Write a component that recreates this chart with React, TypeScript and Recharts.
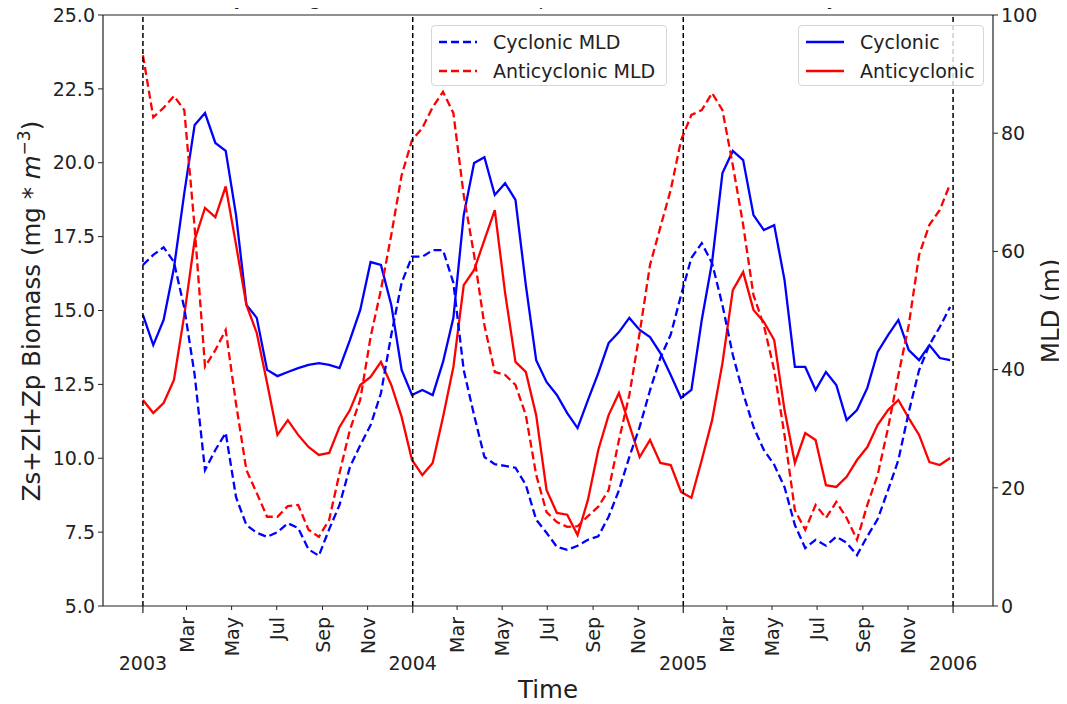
import { ComposedChart, Line, XAxis, YAxis, ReferenceLine } from 'recharts';

// biweekly samples starting 2003-01-01
const cyclonic = [
  14.85, 13.83, 14.68, 16.44, 18.98, 21.28, 21.68, 20.67, 20.4, 18.23,
  15.19, 14.75, 12.99, 12.78, 12.92, 13.05, 13.16, 13.22, 13.16, 13.05,
  14.0, 15.02, 16.64, 16.54, 15.19, 12.99, 12.14, 12.31, 12.14, 13.26,
  14.75, 18.23, 19.99, 20.19, 18.91, 19.31, 18.74, 15.86, 13.32, 12.58,
  12.14, 11.53, 11.02, 11.97, 12.88, 13.9, 14.27, 14.75, 14.34, 14.1,
  13.56, 12.82, 12.04, 12.31, 14.68, 16.64, 19.65, 20.4, 20.09, 18.23,
  17.72, 17.89, 16.03, 13.09, 13.09, 12.31, 12.92, 12.48, 11.29, 11.63,
  12.38, 13.6, 14.17, 14.68, 13.66, 13.32, 13.83, 13.39, 13.32,
];
const anticyclonic = [
  11.97, 11.53, 11.87, 12.65, 14.85, 17.39, 18.47, 18.16, 19.2, 17.22,
  15.19, 14.24, 12.55, 10.79, 11.29, 10.79, 10.38, 10.11, 10.18, 11.06,
  11.63, 12.48, 12.75, 13.26, 12.48, 11.4, 9.94, 9.43, 9.84, 11.4,
  13.09, 15.86, 16.37, 17.39, 18.4, 15.59, 13.26, 12.92, 11.46, 8.93,
  8.15, 8.09, 7.4, 8.59, 10.28, 11.46, 12.21, 11.13, 10.04, 10.62,
  9.84, 9.77, 8.86, 8.66, 9.94, 11.29, 13.22, 15.69, 16.3, 15.02,
  14.61, 14.0, 11.63, 9.84, 10.85, 10.62, 9.09, 9.03, 9.37, 9.94,
  10.38, 11.13, 11.63, 11.97, 11.36, 10.79, 9.87, 9.77, 10.01,
];
const cyclonicMld = [
  57.7, 59.4, 60.7, 58.2, 50.4, 39.1, 23.0, 26.4, 29.3, 18.4,
  13.7, 12.4, 11.7, 12.5, 14.0, 13.2, 9.6, 8.5, 13.0, 17.1,
  23.5, 27.2, 30.6, 36.0, 45.9, 54.7, 59.1, 59.1, 60.2, 60.2,
  54.7, 39.9, 32.3, 25.2, 24.0, 23.7, 23.4, 20.5, 14.6, 12.4,
  10.0, 9.5, 10.2, 11.2, 11.8, 15.1, 19.6, 25.2, 30.3, 36.5,
  42.0, 45.9, 52.6, 58.9, 61.4, 58.0, 50.9, 42.5, 36.0, 30.3,
  26.4, 23.9, 20.1, 13.7, 9.8, 11.2, 10.2, 11.7, 10.7, 8.6,
  11.8, 14.7, 19.6, 24.7, 32.8, 39.9, 44.2, 47.2, 50.6,
];
const anticyclonicMld = [
  93.2, 82.7, 84.3, 86.3, 83.9, 64.0, 40.5, 43.3, 46.7, 34.2,
  23.0, 19.1, 15.1, 15.1, 16.9, 17.1, 12.9, 11.7, 14.6, 22.5,
  29.8, 34.9, 45.5, 53.5, 62.8, 72.9, 78.8, 80.9, 84.4, 87.0,
  83.4, 69.5, 59.4, 47.5, 39.6, 39.1, 37.4, 32.3, 22.2, 15.9,
  14.2, 13.4, 13.5, 15.2, 16.8, 19.6, 28.1, 35.7, 46.2, 57.7,
  64.1, 70.4, 78.8, 83.1, 83.9, 86.8, 83.9, 74.6, 64.5, 52.6,
  47.5, 39.9, 28.9, 16.2, 12.9, 17.1, 14.9, 17.6, 14.9, 11.2,
  17.1, 22.2, 30.1, 39.1, 47.5, 59.4, 64.5, 67.0, 71.4,
];

const yearLabels = ['2003', '2004', '2005', '2006'];
const monthLabels = ['Mar', 'May', 'Jul', 'Sep', 'Nov'];
const monthNums = [2, 4, 6, 8, 10];
const biomassTicks = [5, 7.5, 10, 12.5, 15, 17.5, 20, 22.5, 25];
const mldTicks = [0, 20, 40, 60, 80, 100];

const FONT = '"DejaVu Sans", sans-serif';
const INK = '#222';
const START = Date.UTC(2003, 0, 1);
const dayOf = (y: number, m: number) => Math.round((Date.UTC(y, m, 1) - START) / 86400000);

const data = cyclonic.map((v, i) => ({
  day: i * 14,
  cyc: v,
  anti: anticyclonic[i],
  cycMld: cyclonicMld[i],
  antiMld: anticyclonicMld[i],
}));

const yearDays = yearLabels.map(y => dayOf(Number(y), 0));
const tickInfo = new Map<number, { label: string; year: boolean }>();
yearLabels.forEach((y, i) => tickInfo.set(yearDays[i], { label: y, year: true }));
yearLabels.slice(0, 3).forEach(y => {
  monthNums.forEach((m, j) => tickInfo.set(dayOf(Number(y), m), { label: monthLabels[j], year: false }));
});
const timeTicks = [...tickInfo.keys()].sort((a, b) => a - b);

function TimeTick({ x, y, payload }: any) {
  const info = tickInfo.get(payload.value);
  if (!info) return null;
  if (info.year) {
    return (
      <g>
        <line x1={x} y1={y} x2={x} y2={y + 7} stroke={INK} strokeWidth={1.2} />
        <text x={x} y={y + 64} textAnchor="middle" fontSize={19} fill={INK}>{info.label}</text>
      </g>
    );
  }
  return (
    <g>
      <line x1={x} y1={y} x2={x} y2={y + 4} stroke={INK} strokeWidth={1} />
      <text x={x} y={y + 11} transform={`rotate(-90 ${x} ${y + 11})`} textAnchor="end"
        dominantBaseline="central" fontSize={19} fill={INK}>{info.label}</text>
    </g>
  );
}

function LegendBox({ left, width, items }: { left: number; width: number; items: { name: string; color: string; dash?: string }[] }) {
  return (
    <div style={{
      position: 'absolute', left, top: 25, width, height: 61, boxSizing: 'border-box',
      border: '1px solid #d6d6d6', borderRadius: 4, background: 'rgba(255,255,255,0.8)',
    }}>
      {items.map((it, i) => (
        <div key={it.name} style={{ position: 'absolute', left: 7, top: 4 + i * 29, height: 24, display: 'flex', alignItems: 'center' }}>
          <svg width={38} height={6}>
            <line x1={0} y1={3} x2={38} y2={3} stroke={it.color} strokeWidth={2.3} strokeDasharray={it.dash} />
          </svg>
          <span style={{ marginLeft: 16, fontSize: 19, color: INK, whiteSpace: 'nowrap' }}>{it.name}</span>
        </div>
      ))}
    </div>
  );
}

export default function App() {
  return (
    <div style={{ position: 'relative', width: 1067, height: 704, margin: '-8px 0 0 -8px', fontFamily: FONT, background: '#fff' }}>
      <ComposedChart width={1067} height={704} data={data} margin={{ top: 15, right: 14, bottom: 0, left: 43 }}>
        <XAxis dataKey="day" type="number" domain={[-54, 1150]} ticks={timeTicks} interval={0}
          tick={<TimeTick />} tickLine={false} tickSize={0} tickMargin={0} height={98}
          axisLine={{ stroke: INK, strokeWidth: 1.2 }} />
        <YAxis yAxisId="left" domain={[5, 25]} ticks={biomassTicks} interval={0} width={60}
          tickFormatter={(v: number) => v.toFixed(1)} tickSize={5} tickMargin={3}
          tick={{ fontSize: 19, fill: INK }} stroke={INK} axisLine={{ stroke: INK, strokeWidth: 1.2 }} />
        <YAxis yAxisId="right" orientation="right" domain={[0, 100]} ticks={mldTicks} interval={0} width={60}
          tickSize={5} tickMargin={3} tick={{ fontSize: 19, fill: INK }} stroke={INK}
          axisLine={{ stroke: INK, strokeWidth: 1.2 }} />
        <ReferenceLine yAxisId="left" y={25} stroke={INK} strokeWidth={1.2} />
        <Line yAxisId="left" dataKey="cyc" stroke="#0000ff" strokeWidth={2.3} dot={false} isAnimationActive={false} />
        <Line yAxisId="left" dataKey="anti" stroke="#ff0000" strokeWidth={2.3} dot={false} isAnimationActive={false} />
        <Line yAxisId="right" dataKey="cycMld" stroke="#0000ff" strokeWidth={2.3} strokeDasharray="8 4" dot={false} isAnimationActive={false} />
        <Line yAxisId="right" dataKey="antiMld" stroke="#ff0000" strokeWidth={2.3} strokeDasharray="8 4" dot={false} isAnimationActive={false} />
        {yearDays.map(d => (
          <ReferenceLine key={d} yAxisId="left" x={d} stroke="#000" strokeWidth={1.5} strokeDasharray="5 3" />
        ))}
      </ComposedChart>

      <svg width={1067} height={704} style={{ position: 'absolute', left: 0, top: 0, pointerEvents: 'none' }}>
        <text x={548} y={5} textAnchor="middle" fontSize={20} fill={INK}>
          Daily Averaged MLD and Total Zooplankton Biomass inside Eddy Cores
        </text>
        <text x={548} y={698} textAnchor="middle" fontSize={24.5} fill={INK}>Time</text>
        <text x={40} y={311} transform="rotate(-90 40 311)" textAnchor="middle" fontSize={24.5} fill={INK}>
          Zs+Zl+Zp Biomass (mg * <tspan fontStyle="italic">m</tspan>
          <tspan dy={-10} fontSize={17}>−3</tspan>
          <tspan dy={10}>)</tspan>
        </text>
        <text x={1059} y={311} transform="rotate(-90 1059 311)" textAnchor="middle" fontSize={24.5} fill={INK}>MLD (m)</text>
      </svg>

      <LegendBox left={431} width={236} items={[
        { name: 'Cyclonic MLD', color: '#0000ff', dash: '8 4' },
        { name: 'Anticyclonic MLD', color: '#ff0000', dash: '8 4' },
      ]} />
      <LegendBox left={798} width={186} items={[
        { name: 'Cyclonic', color: '#0000ff' },
        { name: 'Anticyclonic', color: '#ff0000' },
      ]} />
    </div>
  );
}
